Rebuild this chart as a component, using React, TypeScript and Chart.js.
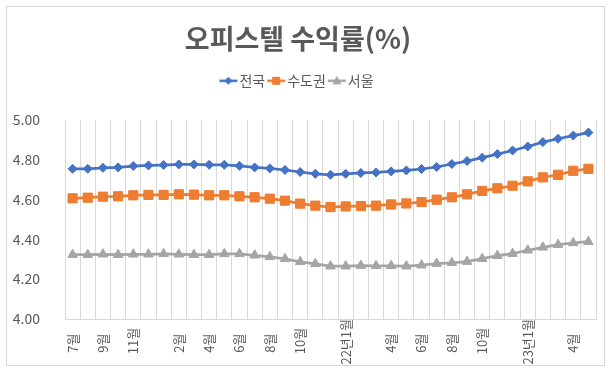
import React, { useEffect, useRef } from 'react';
import { Chart, registerables } from 'chart.js';

Chart.register(...registerables);

const FONT = "'Noto Sans CJK KR', 'Noto Sans', sans-serif";
const TEXT = '#595959';
const GRID = '#d9d9d9';

const title = '오피스텔 수익률(%)';

const categories = [
  '20년7월', '20년8월', '20년9월', '20년10월', '20년11월', '20년12월',
  '21년1월', '21년2월', '21년3월', '21년4월', '21년5월', '21년6월',
  '21년7월', '21년8월', '21년9월', '21년10월', '21년11월', '21년12월',
  '22년1월', '22년2월', '22년3월', '22년4월', '22년5월', '22년6월',
  '22년7월', '22년8월', '22년9월', '22년10월', '22년11월', '22년12월',
  '23년1월', '23년2월', '23년3월', '23년4월', '23년5월',
];

const tickLabels = [
  '7월', '', '9월', '', '11월', '', '', '2월', '', '4월', '', '6월', '', '8월', '', '10월', '', '',
  '22년1월', '', '', '4월', '', '6월', '', '8월', '', '10월', '', '', '23년1월', '', '', '4월', '',
];

const seriesNames = ['전국', '수도권', '서울'];

const jeonguk = [
  4.754, 4.754, 4.759, 4.761, 4.768, 4.771, 4.773, 4.776, 4.776,
  4.774, 4.774, 4.769, 4.761, 4.756, 4.748, 4.738, 4.729, 4.724, 4.729, 4.733, 4.736, 4.741,
  4.746, 4.753, 4.763, 4.778, 4.793, 4.81, 4.828, 4.846, 4.866, 4.888, 4.905, 4.921, 4.936,
];

const sudogwon = [
  4.606, 4.609, 4.614, 4.616, 4.621, 4.623, 4.623, 4.626, 4.624,
  4.621, 4.621, 4.616, 4.611, 4.604, 4.594, 4.579, 4.569, 4.562, 4.565, 4.567, 4.569, 4.575,
  4.58, 4.587, 4.599, 4.611, 4.626, 4.643, 4.656, 4.669, 4.691, 4.711, 4.724, 4.744, 4.754,
];

const seoul = [
  4.323, 4.323, 4.325, 4.323, 4.325, 4.325, 4.327, 4.325, 4.323,
  4.323, 4.327, 4.327, 4.32, 4.312, 4.302, 4.287, 4.277, 4.265, 4.265, 4.268, 4.267, 4.267,
  4.265, 4.27, 4.278, 4.282, 4.288, 4.303, 4.318, 4.328, 4.345, 4.36, 4.373, 4.382, 4.388,
];

const colors = ['#4472C4', '#ED7D31', '#A5A5A5'];
const pointStyles = ['rectRot', 'rect', 'triangle'];
const pointRadii = [4.5, 6.5, 5.5];

function makeLegendIcon(color: string, style: string): HTMLCanvasElement {
  const c = document.createElement('canvas');
  c.width = 36;
  c.height = 12;
  const ctx = c.getContext('2d')!;
  ctx.strokeStyle = color;
  ctx.fillStyle = color;
  ctx.lineWidth = 2.5;
  ctx.beginPath();
  ctx.moveTo(10, 6);
  ctx.lineTo(28, 6);
  ctx.stroke();
  const cx = 19, cy = 6;
  ctx.beginPath();
  if (style === 'rectRot') {
    ctx.moveTo(cx - 4, cy);
    ctx.lineTo(cx, cy - 4);
    ctx.lineTo(cx + 4, cy);
    ctx.lineTo(cx, cy + 4);
    ctx.closePath();
  } else if (style === 'rect') {
    ctx.rect(cx - 4, cy - 4, 8, 8);
  } else {
    ctx.moveTo(cx, cy - 5);
    ctx.lineTo(cx + 4.5, cy + 3.5);
    ctx.lineTo(cx - 4.5, cy + 3.5);
    ctx.closePath();
  }
  ctx.fill();
  return c;
}

const frame = {
  id: 'frame',
  beforeDraw(chart: any) {
    const ctx = chart.ctx;
    ctx.save();
    ctx.fillStyle = '#ffffff';
    ctx.fillRect(0, 0, chart.width, chart.height);
    ctx.strokeStyle = GRID;
    ctx.lineWidth = 1;
    ctx.strokeRect(6.5, 6.5, 598, 359);
    ctx.restore();
  },
};

export default function App() {
  const ref = useRef<HTMLCanvasElement>(null);

  useEffect(() => {
    if (!ref.current) return;
    Chart.defaults.font.family = FONT;

    const tickFont = `13px ${FONT}`;
    const mctx = document.createElement('canvas').getContext('2d')!;
    mctx.font = tickFont;
    const maxW = Math.max(...tickLabels.map((t) => mctx.measureText(t).width));
    const spaceW = mctx.measureText(' ').width || 3;

    const icons = colors.map((c, i) => makeLegendIcon(c, pointStyles[i]));

    const datasets = [jeonguk, sudogwon, seoul].map((d, i) => ({
      label: seriesNames[i],
      data: d,
      borderColor: colors[i],
      backgroundColor: colors[i],
      borderWidth: 2.75,
      pointStyle: pointStyles[i],
      pointRadius: pointRadii[i],
      pointBorderWidth: 1,
      pointBackgroundColor: colors[i],
      pointBorderColor: colors[i],
      tension: 0,
      fill: false,
    }));

    const chart = new Chart(ref.current, {
      type: 'line',
      data: { labels: categories, datasets },
      plugins: [frame],
      options: {
        animation: false,
        responsive: false,
        maintainAspectRatio: false,
        layout: { padding: { left: 0, right: 15, top: 0, bottom: 0 } },
        plugins: {
          title: {
            display: true,
            text: title,
            color: TEXT,
            font: { size: 27, weight: 'bold', family: FONT },
            padding: { top: 23, bottom: 13.4 },
          },
          legend: {
            display: true,
            position: 'top',
            labels: {
              color: TEXT,
              font: { size: 14, family: FONT },
              usePointStyle: true,
              pointStyleWidth: 10,
              padding: 5,
              generateLabels: (ch: any) => {
                const items = (Chart.defaults.plugins.legend.labels as any).generateLabels(ch);
                items.forEach((it: any, i: number) => {
                  it.pointStyle = icons[i];
                  it.fontColor = TEXT;
                });
                return items;
              },
            },
          },
          subtitle: {
            display: true,
            text: '',
            weight: 500,
            font: { size: 10, lineHeight: 1 },
            padding: { top: 12, bottom: 0 },
          } as any,
          tooltip: { enabled: false },
        },
        scales: {
          x: {
            type: 'category',
            offset: true,
            grid: { display: true, offset: true, color: GRID, drawTicks: false },
            border: { display: true, color: GRID },
            ticks: {
              autoSkip: false,
              minRotation: 90,
              maxRotation: 90,
              padding: 0,
              color: TEXT,
              font: { size: 13, family: FONT },
              callback: (_v: any, idx: number) => {
                const t = tickLabels[idx] || '';
                if (!t) return '';
                const pad = (maxW - mctx.measureText(t).width) / 2;
                const n = Math.max(0, Math.round(pad / spaceW));
                return t + ' '.repeat(n);
              },
            },
            afterFit: (scale: any) => {
              scale.height = 55;
            },
          },
          y: {
            min: 4,
            max: 5,
            grid: { display: false },
            border: { display: false },
            ticks: {
              stepSize: 0.2,
              padding: 17,
              color: TEXT,
              font: { size: 14, family: FONT },
              callback: (v: any) => Number(v).toFixed(2),
            },
            afterFit: (scale: any) => {
              scale.width = 65;
            },
          },
        },
      } as any,
    });

    return () => chart.destroy();
  }, []);

  return (
    <div style={{ position: 'absolute', left: 0, top: 0, width: 611, height: 374, background: '#fff' }}>
      <canvas ref={ref} width={611} height={374} style={{ display: 'block', width: 611, height: 374 }} />
    </div>
  );
}
